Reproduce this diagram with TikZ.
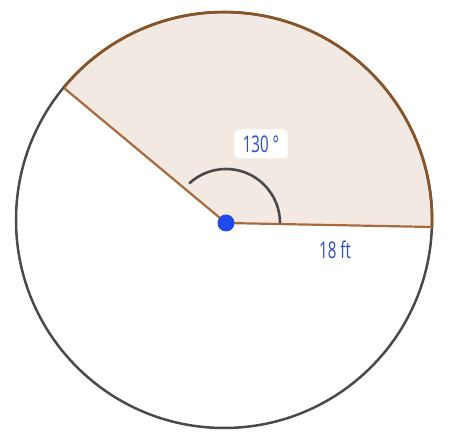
\documentclass[tikz,border=0pt]{standalone}
\usepackage{fontspec}
\setmainfont{Open Sans}
\definecolor{sectorfill}{HTML}{F3E9E3}
\definecolor{radiuscol}{HTML}{A86A3C}
\definecolor{arccol}{HTML}{8A5426}
\definecolor{circcol}{HTML}{4A4A4A}
\definecolor{labelblue}{HTML}{2A4FC8}
\definecolor{dotblue}{HTML}{1F4BEE}
\tikzset{
  lbl/.style={text=labelblue, font=\fontsize{23}{26}\selectfont, inner sep=0pt},
}
\begin{document}
\begin{tikzpicture}[x=1pt,y=1pt]
\useasboundingbox (0,0) rectangle (450,446);
\fill[white] (0,0) rectangle (450,446);
\coordinate (C) at (224,226);
\coordinate (D) at (226,223);
\coordinate (R) at (432,219);
\coordinate (L) at (64,358);
% sector fill
\fill[sectorfill] (D) -- (R) arc[start angle=-1.9, end angle=140.5, radius=208] -- cycle;
% full circle
\draw[circcol, line width=2.5pt] (C) circle[radius=208];
% sector arc
\draw[arccol, line width=2.6pt] (R) arc[start angle=-1.9, end angle=140.5, radius=208];
% radii
\draw[radiuscol, line width=2.2pt] (D) -- (R);
\draw[radiuscol, line width=2.2pt] (D) -- (L);
% angle arc
\draw[circcol, line width=2.6pt] ([shift={(0:54)}]D) arc[start angle=0, end angle=133, radius=54];
% label box
\node[fill=white, rounded corners=4pt, minimum width=53pt, minimum height=29pt] (box) at (261,302) {};
\node[lbl] (ang) at (box.center) {\scalebox{0.66}[1]{130 °}};
\node[lbl] (len) at (335,196) {\scalebox{0.66}[1]{18 ft}};
% center dot
\fill[dotblue] (D) circle[radius=8.5];
\end{tikzpicture}
\end{document}
